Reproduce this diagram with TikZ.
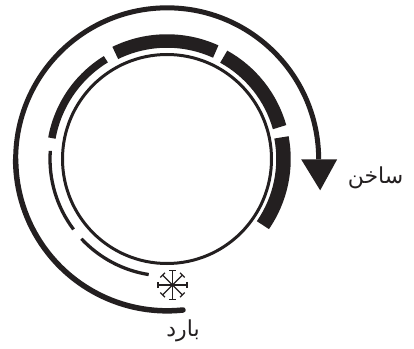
\documentclass[tikz,border=0pt]{standalone}
\usepackage{fontspec}
\newfontfamily\arabicfont[Script=Arabic]{DejaVu Sans}
\TeXXeTstate=1
\usetikzlibrary{arrows.meta,positioning,calc}
\definecolor{Ink}{HTML}{231F20}
\tikzset{
  ringline/.style={Ink,line width=#1},
  flakeline/.style={Ink,line width=1.3pt},
  heatlabel/.style={font=\arabicfont\fontsize{22}{22}\selectfont,text=Ink,inner sep=0pt}
}
\begin{document}
\begin{tikzpicture}[x=1pt,y=1pt]
  \useasboundingbox (-167,-189) rectangle (247,159);
  \coordinate (centre) at (0,0);
  % inner ring
  \draw[ringline=3pt] (centre) circle (104.5);
  % segments of the middle ring
  \foreach \a/\b/\r/\w in {261/223/117/3.3,217/176/117/3.3,169.7/121.5/117/7.5,116/65.6/118/13.5,61/15.8/117/14,10.7/-34.6/116.5/14.5} {
    \draw[ringline=\w pt] (\a:\r) arc[start angle=\a,end angle=\b,radius=\r];
  }
  % outer arc with the arrow
  \draw[ringline=5.5pt,line cap=round] (16,-151) arc[start angle=-84,end angle=-180,radius=151.5] coordinate (outerleft);
  \draw[ringline=5pt] (outerleft) arc[start angle=180,end angle=0,radius=151.5] coordinate (arrowbase);
  \fill[Ink] ($(arrowbase)+(-17.5,0)$) -- ($(arrowbase)+(18.5,0)$) -- ($(arrowbase)+(1.5,-31)$) -- cycle;
  % snowflake
  \begin{scope}[shift={(5.5,-126)}]
    \foreach \t/\l in {0/14.5,45/14,90/14.5,135/14,180/14.5,225/14,270/14.5,315/14} {
      \draw[flakeline] (0,0) -- (\t:\l);
      \draw[flakeline] (\t:\l) ++(\t+90:3.2) -- ++(\t-90:6.4);
    }
  \end{scope}
  \node[heatlabel] (hot) at (208.5,-19) {\beginR ساخن\endR};
  \node[heatlabel] (cold) at (16,-172) {\beginR بارد\endR};
\end{tikzpicture}
\end{document}
